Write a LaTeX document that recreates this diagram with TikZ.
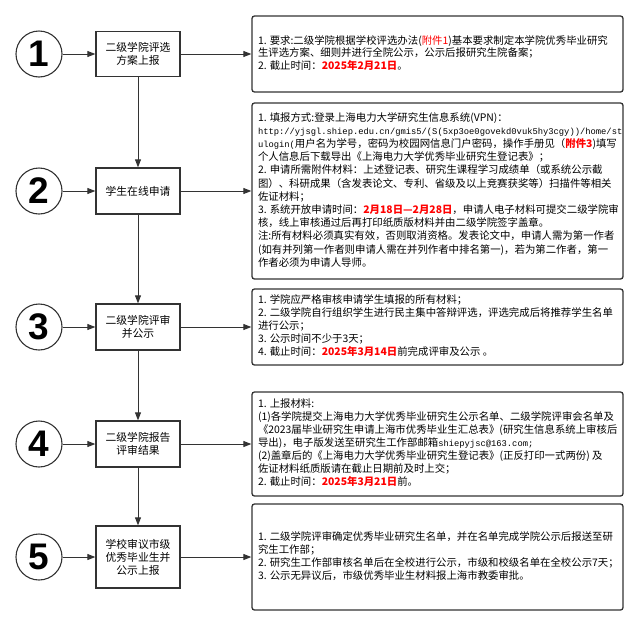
\documentclass[tikz,border=0pt]{standalone}
\usepackage{fontspec}
\setmainfont{Noto Sans CJK SC}
\setmonofont{Liberation Mono}
\newfontfamily\numfont{Liberation Sans}
\usetikzlibrary{arrows.meta}
\definecolor{mydarkgray}{RGB}{51,51,51}
\definecolor{myred}{RGB}{255,0,0}
\newcommand{\redtxt}[1]{\textcolor{myred}{\bfseries #1}}
\newcommand{\redplain}[1]{\textcolor{myred}{#1}}
\newcommand{\monotxt}[1]{{\ttfamily\fontsize{8.8}{13}\selectfont #1}}
\newcommand{\notelines}[1]{\makebox[359pt][l]{\begin{tabular}{@{}l@{}}#1\end{tabular}}}
\tikzset{every picture/.style={line width=0.75pt}}
\tikzset{
  numcircle/.style={circle, draw=mydarkgray, line width=1.1pt, minimum size=46pt, inner sep=0pt, font=\numfont\bfseries\fontsize{37}{37}\selectfont},
  stagebox/.style={draw=mydarkgray, fill=white, line width=1.3pt, minimum width=84pt, text width=80pt, align=center, inner sep=2pt, font=\fontsize{10.8}{13}\selectfont},
  notebox/.style={draw=mydarkgray, rounded corners=2.5pt, line width=1.3pt, minimum height=#1, inner xsep=6pt, inner ysep=2pt, font=\fontsize{10.4}{13}\selectfont},
  flowarrow/.style={draw=mydarkgray, line width=1pt, -{Triangle[length=8pt,width=6pt]}}
}

\begin{document}
\begin{tikzpicture}[x=1pt,y=1pt,yscale=-1,xscale=1]
\useasboundingbox (0,0) rectangle (639,627);

%Shape: Circle
\node [numcircle] (num1) at (39,54) {1};
\node [numcircle] (num2) at (39,191) {2};
\node [numcircle] (num3) at (39,327) {3};
\node [numcircle] (num4) at (39,444) {4};
\node [numcircle] (num5) at (39,557) {5};

%Shape: Rectangle
\node [stagebox, minimum height=45pt] (stage1) at (138,54) {二级学院评选\\方案上报};
\node [stagebox, minimum height=46pt] (stage2) at (138,191) {学生在线申请};
\node [stagebox, minimum height=46pt] (stage3) at (138,327) {二级学院评审\\并公示};
\node [stagebox, minimum height=46pt] (stage4) at (138,444) {二级学院报告\\评审结果};
\node [stagebox, minimum height=62pt] (stage5) at (138,557) {学校审议市级\\优秀毕业生并\\公示上报};

%Shape: Rounded Rect
\node [notebox=76pt, font=\fontsize{10.4}{12}\selectfont] (note1) at (437.5,54) {\notelines{%
1. 要求:二级学院根据学校评选办法(\redplain{附件1})基本要求制定本学院优秀毕业研究\\
生评选方案、细则并进行全院公示，公示后报研究生院备案；\\
2. 截止时间：\redtxt{2025年2月21日}。}};

\node [notebox=176pt, font=\fontsize{10.4}{13.2}\selectfont] (note2) at (437.5,191) {\notelines{%
1. 填报方式:登录上海电力大学研究生信息系统(VPN)：\\
\monotxt{http://yjsgl.shiep.edu.cn/gmis5/(S(5xp3oe0govekd0vuk5hy3cgy))/home/st}\\
\monotxt{ulogin(}用户名为学号，密码为校园网信息门户密码，操作手册见（\redtxt{附件3})填写\\
个人信息后下载导出《上海电力大学优秀毕业研究生登记表》；\\
2. 申请所需附件材料：上述登记表、研究生课程学习成绩单（或系统公示截\\
图）、科研成果（含发表论文、专利、省级及以上竞赛获奖等）扫描件等相关\\
佐证材料；\\
3. 系统开放申请时间：\redtxt{2月18日—2月28日}，申请人电子材料可提交二级学院审\\
核，线上审核通过后再打印纸质版材料并由二级学院签字盖章。\\
注:所有材料必须真实有效，否则取消资格。发表论文中，申请人需为第一作者\\
(如有并列第一作者则申请人需在并列作者中排名第一)，若为第二作者，第一\\
作者必须为申请人导师。}};

\node [notebox=76pt] (note3) at (437.5,327) {\notelines{%
1. 学院应严格审核申请学生填报的所有材料；\\
2. 二级学院自行组织学生进行民主集中答辩评选，评选完成后将推荐学生名单\\
进行公示；\\
3. 公示时间不少于3天；\\
4. 截止时间：\redtxt{2025年3月14日}前完成评审及公示 。}};

\node [notebox=104pt] (note4) at (437.5,444) {\notelines{%
1. 上报材料:\\
(1)各学院提交上海电力大学优秀毕业研究生公示名单、二级学院评审会名单及\\
《2023届毕业研究生申请上海市优秀毕业生汇总表》(研究生信息系统上审核后\\
导出)，电子版发送至研究生工作部邮箱\monotxt{shiepyjsc@163.com;}\\
(2)盖章后的《上海电力大学优秀毕业研究生登记表》(正反打印一式两份) 及\\
佐证材料纸质版请在截止日期前及时上交；\\
2. 截止时间：\redtxt{2025年3月21日}前。}};

\node [notebox=106pt] (note5) at (437.5,557) {\notelines{%
1. 二级学院评审确定优秀毕业研究生名单，并在名单完成学院公示后报送至研\\
究生工作部；\\
2. 研究生工作部审核名单后在全校进行公示，市级和校级名单在全校公示7天；\\
3. 公示无异议后，市级优秀毕业生材料报上海市教委审批。}};

%Straight Lines
\draw [flowarrow] (num1) -- (stage1);
\draw [flowarrow] (num2) -- (stage2);
\draw [flowarrow] (num3) -- (stage3);
\draw [flowarrow] (num4) -- (stage4);
\draw [flowarrow] (num5) -- (stage5);
%Straight Lines
\draw [flowarrow] (stage1) -- (note1);
\draw [flowarrow] (stage2) -- (note2);
\draw [flowarrow] (stage3) -- (note3);
\draw [flowarrow] (stage4) -- (note4);
\draw [flowarrow] (stage5) -- (note5);
%Straight Lines
\draw [flowarrow] (stage1) -- (stage2);
\draw [flowarrow] (stage2) -- (stage3);
\draw [flowarrow] (stage3) -- (stage4);
\draw [flowarrow] (stage4) -- (stage5);

\end{tikzpicture}
\end{document}
